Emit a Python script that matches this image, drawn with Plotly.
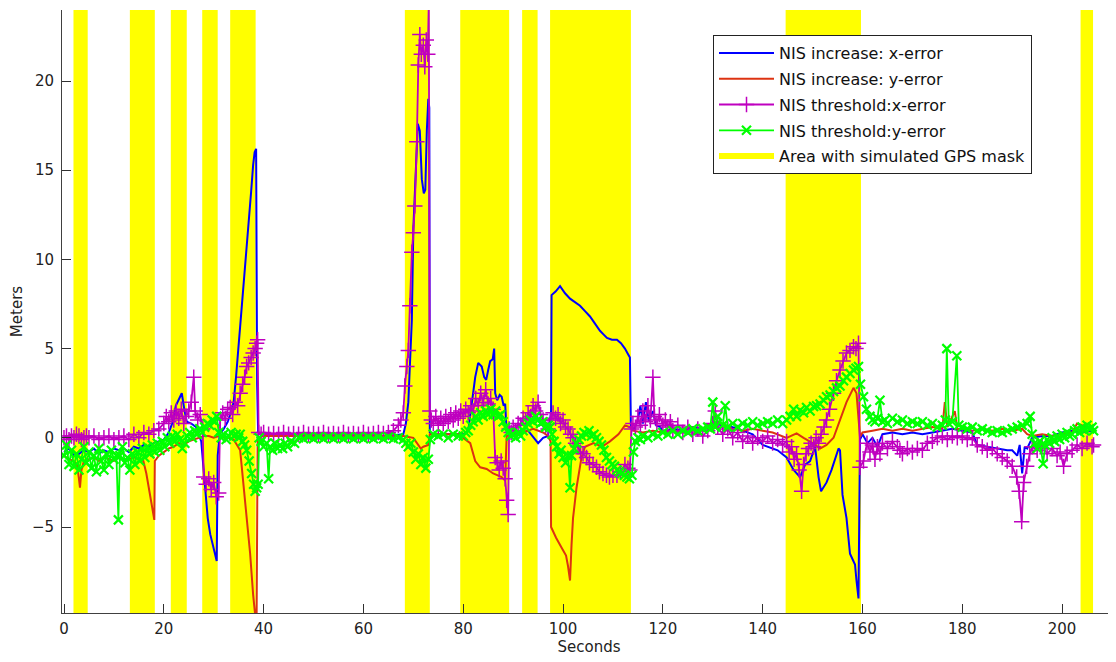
import plotly.graph_objects as go

# ---------------- data ----------------
band_start = [1.9, 13.2, 21.4, 27.7, 33.3, 68.3, 79.4, 91.8, 97.4, 144.6, 203.7]
band_end = [4.75, 18.2, 24.6, 30.8, 38.4, 73.3, 89.2, 94.9, 113.6, 159.7, 206.2]

blue_t = [0, 1, 2, 3, 4, 5, 6, 7, 8, 9,
          10, 11, 12, 13, 14, 15, 16, 17, 18, 19,
          20, 21, 21.8, 22.4, 23, 23.6, 24.1, 24.6, 25.5, 26.5,
          27.5, 27.9, 28.3, 28.8, 29.3, 29.8, 30.2, 30.6, 30.8, 31.2,
          32, 32.8, 33.3, 34, 34.5, 35, 35.5, 36, 36.5, 37,
          37.5, 37.9, 38.2, 38.5, 38.7, 38.9, 40, 42, 44, 46,
          48, 50, 52, 54, 56, 58, 60, 62, 64, 66,
          68, 68.5, 69, 69.3, 69.7, 70, 70.5, 70.9, 71.3, 71.7,
          72.1, 72.4, 72.7, 73.0, 73.2, 73.3, 74, 76, 78, 80,
          81, 81.8, 82.4, 83, 83.7, 84.2, 84.6, 85, 85.4, 85.9,
          86.2, 86.4, 86.8, 87.3, 87.7, 88.1, 88.4, 88.7, 89.5, 91,
          93, 95, 96, 97, 97.6, 97.7, 98.5, 99.4, 100.4, 101.4,
          102.4, 103.4, 104.4, 105.4, 106.4, 107.4, 108.1, 108.8, 109.8, 110.8,
          111.6, 112.4, 113.0, 113.4, 113.6, 114.2, 115, 115.5, 116, 116.6,
          117.2, 118, 118.6, 119.5, 120, 122, 124, 126, 128, 130,
          132, 134, 136, 138, 140, 141, 142, 143, 144.8, 146.2,
          147.5, 148.5, 149.5, 150.5, 151.2, 151.7, 152.8, 153.8, 155.2, 155.5,
          156, 156.8, 157.5, 158.5, 158.8, 159.2, 159.5, 160, 161, 162,
          163, 164, 166, 168, 170, 172, 174, 176, 178, 180,
          182, 183, 185, 187, 189, 190, 191, 191.5, 192, 192.5,
          193, 194, 196, 198, 200, 202, 204, 206]
blue_v = [-0.8, -0.6, -1.0, -0.9, -0.7, -0.8, -0.6, -0.9, -0.7, -0.8,
          -0.6, -0.7, -0.6, -0.8, -0.5, -0.6, -0.4, -0.5, -0.3, -0.2,
          -0.1, 0.3, 0.9, 1.8, 2.2, 2.5, 1.6, 0.9, 0.8, 0.6,
          -0.2, -1.5, -3.0, -4.5, -5.4, -6.0, -6.4, -6.9, -1.0, 0.2,
          0.5, 0.9, 1.3, 2.0, 3.5, 5.2, 6.5, 8.5, 10.3, 12.0,
          13.8, 15.3, 16.0, 16.2, 3.0, 0.3, 0.1, 0.15, 0.1, 0.15,
          0.1, 0.15, 0.1, 0.15, 0.1, 0.15, 0.1, 0.15, 0.1, 0.15,
          0.2, 0.8, 2.0, 4.0, 6.6, 11.7, 15.3, 17.6, 17.2, 14.5,
          13.7, 13.9, 17.2, 19.0, 18.5, 0.3, 0.2, 0.2, 0.2, 0.2,
          0.4, 2.0, 3.4, 4.2, 4.0, 3.4, 3.25, 3.8, 4.3, 4.4,
          5.0, 2.5, 2.1, 2.4, 2.3, 1.8, 1.9, 0.3, 0.2, 0.2,
          0.4, -0.3, 0.0, 0.1, 1.5, 8.0, 8.2, 8.5, 8.1, 7.8,
          7.6, 7.4, 7.1, 6.8, 6.4, 6.0, 5.8, 5.6, 5.5, 5.5,
          5.3, 5.0, 4.7, 4.5, 0.6, 0.5, 1.0, 1.8, 0.8, 2.0,
          0.9, 1.5, 0.7, 0.6, 0.3, 0.5, 0.4, 0.6, 0.5, 0.8,
          0.7, 0.6, 0.4, 0.2, -0.4, -0.5, -0.6, -0.7, -1.1, -1.8,
          -2.2, -1.5, -1.3, -0.5, -2.2, -3.0, -2.5, -1.8, -0.6, -0.7,
          -3.2, -4.5, -6.5, -7.1, -8.0, -9.0, -0.1, 0.2, -0.3, 0.0,
          -0.5, 0.2, 0.3, 0.2, 0.3, 0.2, 0.3, 0.4, 0.5, 0.4,
          0.3, -0.4, -0.5, -0.6, -0.7, -0.7, -1.0, -0.4, -2.0, -0.5,
          -0.6, 0.0, 0.1, 0.1, 0.3, 0.4, 0.3, 0.4]

red_t = [0, 1, 2, 2.6, 3.0, 3.2, 3.5, 4, 5, 6,
         7, 8, 9, 10, 11, 12, 13, 14, 15, 15.9,
         16.5, 17, 17.6, 18.1, 18.2, 19, 20, 21, 22, 23,
         24, 25, 26, 27, 28, 29, 30, 31, 32, 33,
         34, 35.3, 35.9, 36.6, 37.3, 37.9, 38.3, 38.6, 38.8, 40,
         44, 48, 52, 56, 60, 64, 68, 70, 71, 71.5,
         72, 73, 73.3, 76, 79, 81.4, 82.4, 83.4, 84.7, 86,
         87, 87.7, 88.4, 88.7, 90, 92, 94, 96, 97, 97.5,
         97.6, 98.6, 99.8, 100.6, 101, 101.4, 101.7, 102, 102.7, 103.7,
         104.4, 106.1, 107.8, 109.4, 111.1, 112.4, 113.4, 114, 116, 118,
         120, 122, 124, 126, 128, 129, 130, 131, 132, 134,
         136, 138, 140, 142, 144.8, 146.8, 148.2, 150, 151.5, 152.8,
         154.2, 155.5, 156.8, 158.2, 158.8, 159.5, 160, 162, 164, 166,
         168, 170, 172, 174, 176, 176.5, 177, 178.5, 179, 180,
         182, 184, 186, 188, 190, 192, 193, 194, 196, 198,
         200, 202, 203, 205, 206]
red_v = [-1.0, -1.2, -1.3, -1.5, -2.3, -2.8, -1.8, -1.3, -1.2, -1.1,
         -1.3, -1.1, -1.2, -1.3, -1.1, -1.2, -1.2, -1.1, -1.2, -1.3,
         -2.0, -2.8, -3.7, -4.6, -1.3, -1.0, -0.8, -0.6, -0.5, -0.3,
         -0.4, -0.2, -0.1, 0.0, 0.1, 0.1, 0.0, 0.1, 0.0, 0.0,
         -0.1, -0.7, -2.4, -4.3, -6.5, -8.8, -9.9, -9.9, 0.0, 0.1,
         0.1, 0.1, 0.1, 0.1, 0.1, 0.1, 0.1, 0.0, -0.4, -0.6,
         -0.5, -0.4, 0.2, 0.2, 0.2, -0.3, -1.3, -1.65, -1.75, -2.0,
         -2.1, -2.2, -2.4, 0.1, 0.2, 0.3, 0.5, 0.3, 0.1, -0.2,
         -5.0, -5.6, -6.2, -6.6, -7.2, -8.0, -6.0, -4.5, -2.8, -1.1,
         -0.5, -0.3, -0.5, -0.2, 0.2, 0.7, 0.6, 0.4, 0.3, 0.4,
         0.3, 0.4, 0.3, 0.4, 0.5, 0.7, 0.8, 0.9, 0.7, 0.5,
         0.4, 0.5, 0.4, 0.3, 0.0, 0.25, 0.0, -0.3, -0.6, -0.4,
         0.0, 1.0, 2.0, 2.8, 2.5, 0.05, 0.3, 0.4, 0.5, 0.4,
         0.5, 0.4, 0.5, 0.6, 0.5, 2.0, 0.6, 1.5, 0.5, 0.5,
         0.4, 0.5, 0.4, 0.5, 0.4, 0.5, 0.2, 0.1, 0.2, 0.1,
         0.2, 0.3, 0.8, 0.6, 0.5]

mag_t = [0, 0.5, 1, 1.5, 2, 2.5, 3, 3.5, 4, 4.5,
         5, 6, 7, 8, 9, 10, 11, 12, 13, 14,
         15, 16, 17, 18, 19, 20, 20.5, 21, 21.5, 22,
         22.5, 23, 23.5, 24, 24.5, 25, 25.5, 26, 26.3, 26.8,
         27.3, 27.8, 28, 28.5, 29, 29.5, 30, 30.5, 31, 31.3,
         31.8, 32.3, 32.8, 33.3, 33.8, 34.3, 34.8, 35.3, 35.8, 36.2,
         36.6, 37, 37.5, 37.9, 38.3, 38.6, 38.8, 39, 39.5, 40,
         41, 42, 43, 44, 45, 46, 47, 48, 49, 50,
         51, 52, 53, 54, 55, 56, 57, 58, 59, 60,
         61, 62, 63, 64, 65, 66, 67, 67.5, 68, 68.3,
         68.7, 69, 69.3, 69.7, 70, 70.3, 70.7, 71, 71.3, 71.6,
         72, 72.3, 72.6, 72.9, 73.1, 73.3, 73.6, 74, 74.5, 75,
         75.5, 76, 76.5, 77, 77.5, 78, 78.5, 79, 79.5, 80,
         80.5, 81, 81.5, 82, 82.5, 83, 83.5, 84, 84.5, 85,
         85.5, 86, 86.4, 86.8, 87.2, 87.6, 88, 88.4, 88.7, 89,
         89.2, 89.6, 90, 90.5, 91, 91.5, 92, 92.5, 93, 93.5,
         94, 94.5, 95, 95.5, 96, 96.5, 97, 97.5, 98, 98.5,
         99, 99.5, 100, 100.5, 101, 101.5, 102, 102.5, 103, 103.5,
         104, 104.7, 105.3, 106, 106.7, 107.3, 108, 108.7, 109.3, 110,
         110.8, 111.5, 112.4, 113, 113.4, 113.7, 114, 114.5, 115, 115.5,
         116, 116.5, 117, 117.5, 118, 118.3, 118.8, 119.3, 120, 120.5,
         121, 121.5, 122, 123, 124, 125, 126, 127, 128, 129,
         130, 130.5, 131, 132, 133, 134, 135, 136, 137, 138,
         139, 140, 141, 142, 143, 144, 144.8, 145.3, 145.8, 146.3,
         146.8, 147.3, 147.8, 148.2, 148.7, 149.2, 149.7, 150.2, 150.7, 151.2,
         151.7, 152.3, 152.8, 153.4, 154.2, 154.8, 155.5, 156.1, 156.8, 157.5,
         158.2, 158.7, 159.2, 159.5, 160.2, 160.9, 161.5, 162, 162.5, 163,
         163.5, 164, 165, 166, 167, 167.5, 168, 169, 170, 171,
         172, 173, 174, 175, 176, 177, 178, 179, 180, 181,
         182, 183, 184, 185, 186, 187, 188, 189, 190, 190.9,
         191.4, 191.9, 192.3, 192.9, 193.5, 194, 195, 196, 197, 198,
         199, 199.6, 200.3, 201, 202, 203, 204, 205, 206, 206.3]
mag_v = [0.0, 0.1, -0.1, 0.1, 0.0, 0.2, 0.1, -0.1, 0.0, 0.1,
         0.0, 0.1, -0.1, 0.0, 0.1, -0.1, 0.0, 0.1, -0.1, 0.2,
         0.0, 0.3, 0.2, 0.4, 0.5, 0.8, 1.2, 0.9, 1.4, 1.0,
         1.5, 1.1, 1.6, 0.8, 1.2, 1.5, 2.0, 3.4, 1.5, 1.0,
         1.3, 0.5, -2.2, -2.6, -2.3, -2.9, -2.5, -3.3, -3.1, 1.0,
         1.4, 1.1, 1.6, 1.7, 1.3, 2.0, 1.8, 2.5, 3.0, 3.4,
         4.0, 4.2, 4.5, 4.75, 5.0, 5.3, 5.5, 0.3, 0.2, 0.3,
         0.2, 0.25, 0.2, 0.3, 0.2, 0.25, 0.2, 0.3, 0.2, 0.25,
         0.2, 0.3, 0.2, 0.25, 0.2, 0.3, 0.2, 0.25, 0.2, 0.3,
         0.2, 0.25, 0.3, 0.25, 0.3, 0.4, 0.7, 1.0, 1.4, 2.9,
         4.0, 4.9, 7.4, 10.4, 11.5, 13.0, 16.6, 20.9, 22.6, 21.5,
         22.0, 20.8, 22.3, 21.5, 24.5, 1.5, 1.0, 0.8, 1.2, 0.7,
         1.1, 0.8, 1.2, 0.9, 1.3, 1.0, 1.4, 1.1, 1.5, 1.2,
         1.6, 1.4, 1.8, 1.5, 2.2, 1.8, 2.5, 2.0, 2.7, 1.9,
         2.2, 1.6, -1.1, -1.4, -1.8, -1.3, -1.7, -2.3, -3.5, -4.3,
         0.5, 0.3, 0.6, 0.4, 0.8, 0.7, 1.1, 1.0, 1.4, 1.2,
         1.8, 1.5, 2.0, 1.3, 1.0, 0.7, 0.5, 1.0, 1.4, 1.1,
         1.3, 0.8, 1.0, 0.6, 0.5, 0.2, 0.0, -0.3, -0.5, -0.8,
         -0.9, -1.1, -1.4, -1.5, -1.65, -1.9, -2.0, -2.1, -2.2, -2.1,
         -2.1, -1.9, -1.5, -1.7, -1.8, 0.5, 0.8, 0.6, 1.2, 0.7,
         1.5, 0.9, 1.8, 1.0, 3.4, 1.2, 0.8, 1.3, 0.7, 1.0,
         0.6, 0.9, 0.4, 0.7, 0.3, 0.6, 0.2, 0.5, 0.1, 0.4,
         0.8, 1.5, 0.6, 0.2, 0.5, 0.0, 0.3, -0.2, 0.1, -0.3,
         0.0, -0.2, 0.1, -0.3, -0.1, -0.4, -0.2, -0.8, -0.5, -1.2,
         -0.9, -1.8, -3.0, -1.5, -0.9, -0.6, -0.3, -0.5, 0.0, -0.3,
         0.2, 0.6, 1.0, 1.6, 2.5, 3.2, 3.8, 4.3, 4.75, 4.9,
         5.1, 5.0, 5.3, -1.65, -1.3, -0.3, -0.8, -0.4, -1.2, -0.5,
         -0.9, -0.3, -0.6, -0.2, -0.5, -0.7, -0.9, -0.6, -0.8, -0.6,
         -0.7, -0.3, -0.2, 0.0, 0.1, -0.1, 0.1, 0.0, 0.1, -0.1,
         0.0, -0.4, -0.5, -0.7, -0.6, -0.9, -1.1, -1.3, -1.6, -2.2,
         -3.0, -4.7, -2.5, -1.6, -0.9, -0.5, -0.7, -0.4, -0.9, -0.6,
         -1.0, -0.8, -1.6, -0.9, -0.7, -0.4, -0.6, -0.3, -0.5, -0.4]

grn_t = [0, 0.5, 1, 1.5, 2, 2.5, 3, 3.5, 4, 4.5,
         5, 5.5, 6, 6.5, 7, 7.5, 8, 8.5, 9, 9.5,
         10, 10.5, 10.9, 11.2, 11.7, 12.2, 12.7, 13.2, 13.7, 14.2,
         14.7, 15.2, 15.7, 16.2, 16.7, 17.2, 17.7, 18.2, 18.7, 19.2,
         19.7, 20.2, 20.7, 21.2, 21.7, 22.2, 22.7, 23.2, 23.7, 24.2,
         24.7, 25.2, 25.7, 26.2, 26.7, 27.2, 27.7, 28.2, 28.7, 29.2,
         29.7, 30.2, 30.6, 31, 31.5, 32, 32.5, 33, 33.5, 34,
         34.5, 35, 35.3, 35.8, 36.2, 36.6, 37.1, 37.6, 38, 38.3,
         38.6, 38.9, 39.1, 39.5, 40, 40.6, 41, 41.3, 41.8, 42.3,
         42.8, 43.3, 43.8, 44.3, 44.8, 45.5, 46.2, 47, 48, 49,
         50, 51, 52, 53, 54, 55, 56, 57, 58, 59,
         60, 61, 62, 63, 64, 65, 66, 67, 68, 68.5,
         69, 69.5, 70, 70.5, 71, 71.5, 72, 72.5, 73, 73.4,
         74, 75, 76, 77, 78, 79, 80, 80.5, 81, 81.5,
         82, 82.5, 83, 83.5, 84, 84.5, 85, 85.5, 86, 86.5,
         87, 87.5, 88, 88.5, 89, 89.5, 90, 90.5, 91, 91.5,
         92, 92.5, 93, 93.5, 94, 94.5, 95, 95.5, 96, 96.5,
         97, 97.4, 97.8, 98.2, 98.7, 99.2, 99.6, 100, 100.5, 101,
         101.4, 101.7, 102.2, 102.7, 103.2, 103.7, 104.2, 104.7, 105.2, 105.7,
         106.2, 106.7, 107.2, 107.7, 108.2, 108.7, 109.3, 109.8, 110.3, 110.8,
         111.3, 111.8, 112.3, 112.8, 113.3, 113.8, 114.1, 114.5, 115, 115.5,
         116, 117, 118, 119, 120, 121, 122, 123, 124, 125,
         126, 127, 128, 129, 129.5, 130, 130.5, 131, 132, 132.5,
         133, 134, 135, 136, 137, 138, 139, 140, 141, 142,
         143, 144, 144.8, 145.5, 146.2, 146.8, 147.5, 148.2, 148.8, 149.5,
         150.2, 150.8, 151.5, 152.2, 152.8, 153.5, 154.2, 154.8, 155.5, 156.2,
         156.8, 157.5, 158.2, 158.7, 159.2, 159.6, 160.2, 160.8, 161.5, 162,
         162.5, 163, 163.5, 164, 164.5, 165, 166, 167, 168, 169,
         170, 171, 172, 173, 174, 175, 176, 176.6, 176.9, 177.3,
         178, 178.9, 179.3, 180, 181, 182, 183, 184, 185, 186,
         187, 188, 189, 190, 191, 192, 193, 193.6, 194, 194.5,
         195, 195.5, 196.2, 196.6, 197, 197.5, 198, 198.5, 199, 199.5,
         200, 200.5, 201, 201.5, 202, 202.5, 203, 203.5, 204, 204.5,
         205, 205.5, 206, 206.3]
grn_v = [-1.0, -0.4, -1.5, -0.7, -1.6, -0.9, -1.8, -1.2, -0.5, -1.4,
         -0.8, -1.7, -1.0, -1.9, -0.6, -1.3, -1.8, -0.9, -1.5, -0.7,
         -1.2, -1.0, -4.6, -1.0, -0.5, -1.4, -1.1, -1.8, -0.9, -1.5,
         -0.8, -1.3, -0.6, -1.1, -0.5, -0.9, -0.4, -0.8, -0.3, -0.7,
         -0.2, -0.5, 0.0, -0.3, 0.1, -0.2, 0.2, -0.1, -0.6, -0.3,
         0.1, 0.3, 0.0, 0.4, 0.2, 0.5, 0.3, 0.6, 0.8, 0.7,
         1.0, 0.9, 1.2, 0.3, 0.0, 0.2, -0.1, 0.1, 0.3, 0.1,
         0.2, 0.0, 0.2, -0.2, -0.4, -0.7, -1.3, -2.0, -2.6, -3.0,
         -2.8, -2.6, 0.0, -0.2, -0.5, -0.3, -2.3, -0.5, -0.7, -0.3,
         -0.6, -0.4, -0.6, -0.3, -0.5, -0.2, -0.3, 0.0, -0.05, 0.05,
         -0.05, 0.05, -0.05, 0.05, -0.05, 0.05, -0.05, 0.05, -0.05, 0.05,
         -0.05, 0.05, -0.05, 0.05, -0.05, 0.05, -0.05, 0.0, -0.1, -0.3,
         -0.5, -0.3, -0.8, -1.2, -0.9, -1.5, -1.1, -1.7, -1.2, -0.1,
         0.2, 0.1, 0.2, 0.0, 0.2, 0.1, 0.1, 0.3, 0.4, 0.7,
         0.9, 1.2, 1.0, 1.4, 1.2, 1.5, 1.3, 1.6, 1.3, 1.5,
         1.2, 1.3, 0.9, 0.6, 0.3, 0.1, 0.2, 0.0, 0.3, 0.1,
         0.4, 0.6, 0.8, 1.0, 0.9, 1.2, 1.0, 0.8, 0.9, 0.6,
         0.7, 0.6, 0.2, -0.2, -0.5, -0.9, -0.7, -1.1, -1.4, -1.0,
         -2.8, -1.0, -0.6, -0.3, -0.1, 0.1, 0.3, 0.2, 0.4, 0.1,
         0.2, 0.0, -0.2, -0.4, -0.7, -1.1, -1.3, -1.5, -1.6, -1.8,
         -1.9, -2.0, -2.1, -2.2, -2.3, -2.1, -0.8, -0.2, 0.0, -0.1,
         0.1, 0.0, 0.2, 0.1, 0.3, 0.2, 0.4, 0.2, 0.4, 0.3,
         0.5, 0.4, 0.5, 0.6, 0.5, 2.0, 0.6, 1.2, 0.7, 1.8,
         0.6, 0.8, 0.6, 0.8, 0.7, 0.9, 0.7, 0.8, 0.9, 0.8,
         1.0, 0.8, 1.0, 1.2, 1.6, 1.2, 1.55, 1.4, 1.7, 1.5,
         1.75, 1.8, 1.9, 2.1, 2.3, 2.4, 2.6, 2.8, 2.9, 3.2,
         3.4, 3.6, 3.8, 3.9, 4.0, 3.0, 2.3, 1.6, 1.2, 1.0,
         0.9, 1.1, 2.1, 0.9, 1.0, 0.8, 1.1, 0.9, 1.0, 0.8,
         0.9, 0.8, 0.9, 0.7, 0.8, 0.6, 0.7, 1.0, 5.0, 0.8,
         0.9, 4.6, 0.7, 0.6, 0.5, 0.6, 0.4, 0.5, 0.4, 0.3,
         0.4, 0.3, 0.4, 0.5, 0.6, 0.7, 0.8, 1.2, 0.2, -0.3,
         -0.6, -0.2, -1.45, -0.4, -0.1, -0.3, 0.0, -0.2, 0.1, -0.1,
         0.2, 0.0, 0.3, 0.1, 0.2, 0.4, 0.5, 0.3, 0.6, 0.4,
         0.7, 0.5, 0.6, 0.4]

x_ticks = [0, 20, 40, 60, 80, 100, 120, 140, 160, 180, 200]
y_ticks = [-5, 0, 5, 10, 15, 20]

X_RANGE = [-0.4, 210.8]
Y_RANGE = [-9.82, 23.98]

# ---------------- figure ----------------
FONT = "DejaVu Sans"
# the page body has an 8px default margin; the figure is sized to fit the window
W, H = 1108, 654
fig = go.Figure()

# yellow GPS-mask bands as one filled scatter (drawn first, so it stays underneath)
band_x, band_y = [], []
for a, b in zip(band_start, band_end):
    band_x += [a, a, b, b, a, None]
    band_y += [Y_RANGE[0], Y_RANGE[1], Y_RANGE[1], Y_RANGE[0], Y_RANGE[0], None]
fig.add_trace(go.Scatter(x=band_x, y=band_y, mode="none", fill="toself",
                         fillcolor="#FFFF00", name="Area with simulated GPS mask",
                         legendgroup="g5", legendrank=5, hoverinfo="skip"))

fig.add_trace(go.Scatter(x=blue_t, y=blue_v, mode="lines", name="NIS increase: x-error",
                         line=dict(color="#0000FF", width=2), legendgroup="g1", legendrank=1))
fig.add_trace(go.Scatter(x=red_t, y=red_v, mode="lines", name="NIS increase: y-error",
                         line=dict(color="#DD3311", width=2), legendgroup="g2", legendrank=2))
fig.add_trace(go.Scatter(x=mag_t, y=mag_v, mode="lines+markers", name="NIS threshold:x-error",
                         line=dict(color="#BF00BF", width=1.8),
                         marker=dict(symbol="cross-thin", size=11, color="#BF00BF",
                                     line=dict(width=1.5, color="#BF00BF")),
                         legendgroup="g3", legendrank=3))
fig.add_trace(go.Scatter(x=grn_t, y=grn_v, mode="lines+markers", name="NIS threshold:y-error",
                         line=dict(color="#00FF00", width=1.8),
                         marker=dict(symbol="x-thin", size=9, color="#00FF00",
                                     line=dict(width=2.2, color="#00FF00")),
                         legendgroup="g4", legendrank=4))

axis_common = dict(showgrid=False, zeroline=False, showline=True, linecolor="#404040",
                   linewidth=1, ticks="inside", tickcolor="#303030", tickwidth=1,
                   ticklen=9, mirror=False,
                   tickfont=dict(family=FONT, size=15, color="#222222"))

ML, MT = 54, 2
plot_h = 604.7 - MT
MB = H - 604.7
plot_w = W - ML

fig.update_layout(
    width=W, height=H,
    margin=dict(l=ML, r=0, t=MT, b=MB, autoexpand=False),
    paper_bgcolor="white", plot_bgcolor="white",
    showlegend=True,
    legend=dict(x=(705 - ML) / plot_w, y=1 - (27 - MT) / plot_h, xanchor="left", yanchor="top",
                bgcolor="white", bordercolor="#222222", borderwidth=1,
                font=dict(family=FONT, size=16, color="#111111"),
                traceorder="grouped", tracegroupgap=2, itemwidth=55),
    xaxis=dict(range=X_RANGE, tickvals=x_ticks, ticklabelstandoff=2,
               title=dict(text="Seconds", standoff=2,
                          font=dict(family=FONT, size=15, color="#222222")),
               **axis_common),
    yaxis=dict(range=Y_RANGE, tickvals=y_ticks, ticklabelstandoff=4,
               title=dict(text="Meters", standoff=10,
                          font=dict(family=FONT, size=15, color="#222222")),
               **axis_common),
)

fig.write_html("out.html")
